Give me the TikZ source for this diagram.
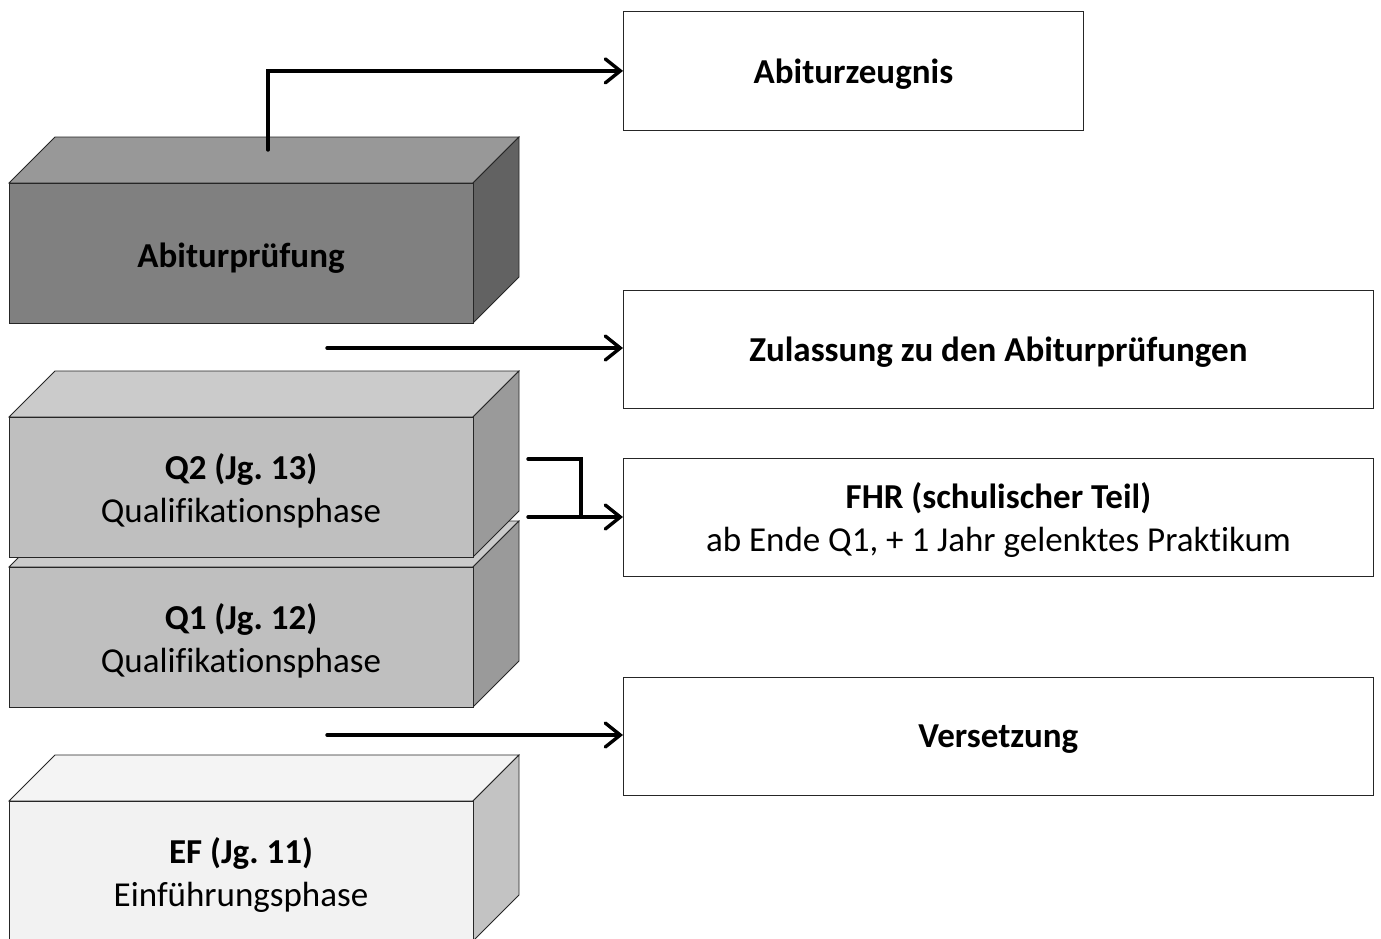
\documentclass[tikz,border=0pt]{standalone}
\usepackage{fontspec}
\setmainfont[Ligatures=NoCommon]{Carlito}
\frenchspacing
\usetikzlibrary{arrows.meta}
\definecolor{afront}{HTML}{808080}
\definecolor{atop}{HTML}{989898}
\definecolor{aside}{HTML}{626262}
\definecolor{qfront}{HTML}{BFBFBF}
\definecolor{qtop}{HTML}{CBCBCB}
\definecolor{qside}{HTML}{9A9A9A}
\definecolor{efront}{HTML}{F2F2F2}
\definecolor{etop}{HTML}{F4F4F4}
\definecolor{eside}{HTML}{C3C3C3}
\newcommand\mycube[4]{%
  % #1 y of front top, #2 front colour, #3 top colour, #4 side colour
  \filldraw[cubeline,fill=#3] (9,#1) -- (55,#1-46) -- (519,#1-46) -- (473,#1) -- cycle;
  \filldraw[cubeline,fill=#4] (473,#1) -- (519,#1-46) -- (519,#1+94) -- (473,#1+140) -- cycle;
  \filldraw[cubeline,fill=#2] (9,#1) rectangle (473,#1+140);
}
\begin{document}
\begin{tikzpicture}[x=1pt,y=-1pt,
  cubeline/.style={draw=black!85,line width=0.8pt},
  txt/.style={font=\fontsize{35}{43}\selectfont,align=center,inner sep=0pt},
  result/.style={draw=black!85,line width=0.8pt,fill=white,anchor=north west,inner sep=0pt},
  conn/.style={line width=3.4pt,line cap=round,line join=miter},
  arr/.style={conn,-{Straight Barb[length=15pt,width=24pt,line cap=round]}}]
\useasboundingbox (0,0) rectangle (1381,938);
\clip (0,0) rectangle (1381,938);

% cubes
\mycube{183}{afront}{atop}{aside}
\mycube{567}{qfront}{qtop}{qside}
\mycube{417}{qfront}{qtop}{qside}
\mycube{801}{efront}{etop}{eside}

\node[txt] (abi) at (241,258) {\textbf{Abiturprüfung}};
\node[txt] (q2) at (241,491) {\textbf{Q2 (Jg. 13)}\\Qualifikationsphase};
\node[txt] (q1) at (241,641) {\textbf{Q1 (Jg. 12)}\\Qualifikationsphase};
\node[txt] (ef) at (241,875) {\textbf{EF (Jg. 11)}\\Einführungsphase};

% result boxes
\node[result,minimum width=460pt,minimum height=119pt] (zeug) at (623,11) {};
\node[txt] (zeugt) at ([yshift=-3pt]zeug.center) {\textbf{Abiturzeugnis}};
\node[result,minimum width=750pt,minimum height=118pt] (zul) at (623,290) {};
\node[txt] (zult) at ([yshift=-3pt]zul.center) {\textbf{Zulassung zu den Abiturprüfungen}};
\node[result,minimum width=750pt,minimum height=118pt] (fhr) at (623,458) {};
\node[txt] (fhrt) at ([yshift=-3pt]fhr.center) {\textbf{FHR (schulischer Teil)}\\ab Ende Q1, + 1 Jahr gelenktes Praktikum};
\node[result,minimum width=750pt,minimum height=118pt] (vers) at (623,677) {};
\node[txt] (verst) at ([yshift=-3pt]vers.center) {\textbf{Versetzung}};

% connectors
\coordinate (s1) at (268,150);
\coordinate (s2) at (327,348);
\coordinate (s3a) at (528,459);
\coordinate (s3b) at (528,517);
\coordinate (s4) at (327,735);
\draw[arr] (s1) |- (zeug.west);
\draw[arr] (s2) -- (s2 -| zul.west);
\draw[conn] (s3a) -- (581,459) -- (581,517);
\draw[arr] (s3b) -- (s3b -| fhr.west);
\draw[arr] (s4) -- (s4 -| vers.west);
\end{tikzpicture}
\end{document}
